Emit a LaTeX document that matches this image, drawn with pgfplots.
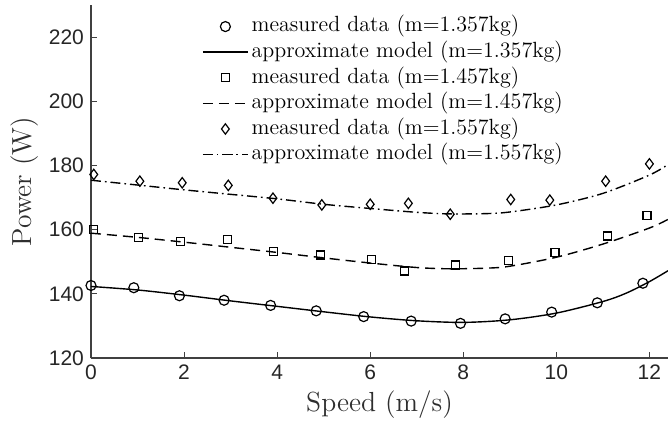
\documentclass[border=0pt]{standalone}
\usepackage{pgfplots}
\pgfplotsset{compat=1.18}
\usepackage{fontspec}
\setsansfont{Liberation Sans}
\begin{document}
\begin{tikzpicture}
\begin{axis}[
  name=ax,
  scale only axis,
  width=288.5pt, height=176.5pt,
  xmin=0, xmax=12.4, ymin=120, ymax=230,
  xtick={0,2,...,12}, ytick={120,140,...,220},
  axis x line*=bottom, axis y line*=left,
  axis line style={draw=black!75, line width=0.6pt, -},
  tick style={draw=black!75, line width=0.5pt},
  tick align=inside, major tick length=3pt,
  /pgf/number format/assume math mode=true,
  ticklabel style={font=\sffamily\fontsize{10.5}{12}\selectfont, text=black!85},
  xlabel={Speed (m/s)}, ylabel={Power (W)},
  label style={font=\fontsize{13.8}{16}\selectfont, text=black!82},
  xlabel style={at={(axis description cs:0.5,-0.133)}, anchor=center},
  ylabel style={at={(axis description cs:-0.1144,0.5)}, anchor=center},
  legend image code/.code={\draw[mark repeat=2,mark phase=2,#1] plot coordinates {(0pt,0pt)(11.25pt,0pt)(22.5pt,0pt)};},
  legend style={draw=none, fill=none, at={(0.192,0.978)}, anchor=north west,
    font=\fontsize{11}{13}\selectfont, row sep=-0.6pt, inner sep=0pt,
    nodes={inner sep=1.5pt, text height=7.9pt, text depth=2.5pt},
    cells={anchor=west}},
  legend cell align=left,
]
\addplot[only marks, mark=o, mark size=2.5pt, mark options={line width=0.6pt, fill=white}] coordinates {
(0,142.6)(0.92,141.9)(1.9,139.4)(2.86,138.0)(3.86,136.4)(4.84,134.7)(5.86,132.9)(6.88,131.5)(7.94,130.8)(8.9,132.2)(9.9,134.3)(10.88,137.2)(11.86,143.3)};
\addlegendentry{measured data (m=1.357kg)}
\addplot[smooth, line width=0.7pt, black] coordinates {
(0,142.3)(1,141.2)(2,139.6)(3,137.8)(4,136.1)(5,134.4)(6,132.8)(7,131.6)(8,131.1)(9,131.9)(10,134.0)(11,137.6)(11.5,140.2)(12,143.8)(12.4,147.2)};
\addlegendentry{approximate model (m=1.357kg)}
\addplot[only marks, mark=square, mark size=2pt, mark options={line width=0.6pt}] coordinates {
(0.06,160.0)(1.02,157.5)(1.92,156.4)(2.94,156.9)(3.93,153.2)(4.93,152.1)(6.02,150.7)(6.73,147.1)(7.83,149.0)(8.97,150.4)(9.97,152.9)(11.1,158.0)(11.95,164.4)};
\addlegendentry{measured data (m=1.457kg)}
\addplot[smooth, line width=0.7pt, black, dash pattern=on 5pt off 3pt] coordinates {
(0,158.9)(1,157.6)(2,156.1)(3,154.5)(4,152.9)(5,151.2)(6,149.6)(7,148.2)(7.7,147.8)(8.5,148.0)(9,148.6)(10,151.4)(11,155.5)(12,160.5)(12.4,163.2)};
\addlegendentry{approximate model (m=1.457kg)}
\addplot[only marks, mark=diamond, mark size=2.6pt, mark options={line width=0.6pt}] coordinates {
(0.06,177.2)(1.05,175.1)(1.96,174.6)(2.95,173.8)(3.91,169.8)(4.96,167.7)(6.0,167.9)(6.82,168.2)(7.72,164.8)(9.02,169.4)(9.86,169.2)(11.06,175.1)(12.0,180.5)};
\addlegendentry{measured data (m=1.557kg)}
\addplot[smooth, line width=0.7pt, black, dash pattern=on 5pt off 2pt on 0.8pt off 2pt] coordinates {
(0,175.4)(1,173.9)(2,172.4)(3,171.0)(4,169.6)(5,167.9)(6,166.6)(7,165.4)(7.7,164.9)(8.5,165.0)(9,165.5)(10,167.7)(11,171.3)(12,177.0)(12.4,180.3)};
\addlegendentry{approximate model (m=1.557kg)}
\end{axis}
\pgfresetboundingbox
\path[use as bounding box] ([xshift=-45.5pt,yshift=-33.5pt]ax.south west) rectangle ([yshift=2.5pt]ax.north east);
\end{tikzpicture}
\end{document}
